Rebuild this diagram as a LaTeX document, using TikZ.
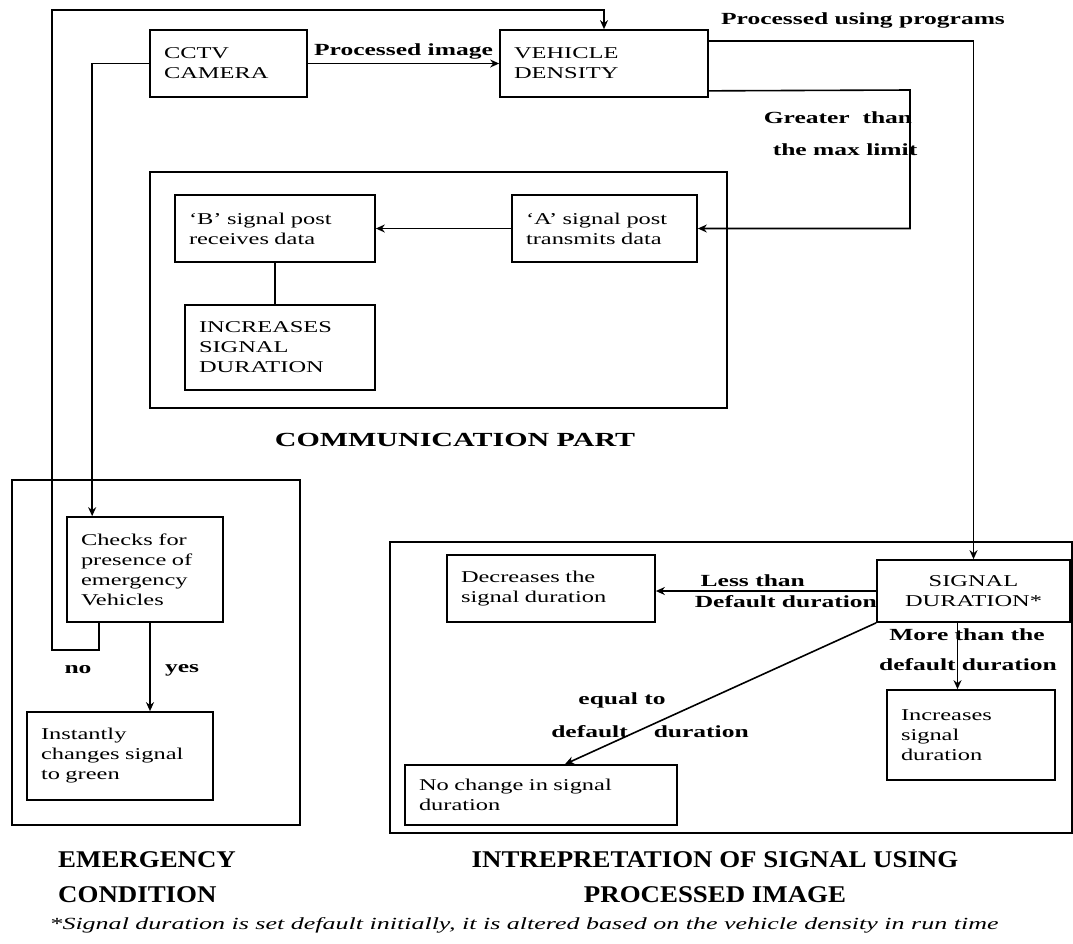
\documentclass[tikz,border=0pt]{standalone}
\usepackage{fontspec}
\setmainfont{Liberation Serif}
\newfontfamily\boxfont[FakeStretch=1.48]{Liberation Serif}
\newfontfamily\lblfont[FakeStretch=1.5]{Liberation Serif}
\newfontfamily\ttlfont[FakeStretch=1.12]{Liberation Serif}
\newfontfamily\notefont[FakeStretch=1.53]{Liberation Serif}
\usetikzlibrary{arrows.meta, calc}

\tikzset{
  blk/.style={draw, line width=1.7pt, font=\boxfont\fontsize{16.5}{20}\selectfont, align=left, inner xsep=14pt, inner ysep=0pt},
  lbl/.style={font=\lblfont\bfseries\fontsize{17}{32}\selectfont, inner sep=1pt},
  ttl/.style={font=\ttlfont\bfseries\fontsize{24}{35}\selectfont, inner sep=0pt},
  frame/.style={line width=1.7pt},
  con/.style={line width=1.6pt},
  arr/.style={line width=1.6pt, -{Stealth[length=9pt,width=8pt]}}
}

\begin{document}
\begin{tikzpicture}[x=1pt, y=-1pt]
\useasboundingbox (0,0) rectangle (1073,943);

% top row
\node[blk, text width=129pt, minimum height=67pt] (cctv) at (228.5,63.5) {CCTV\\CAMERA};
\node[blk, text width=180pt, minimum height=67pt] (dens) at (604,63.5) {VEHICLE\\DENSITY};

% communication part
\draw[frame] (150,172) rectangle (727,408);
\node[blk, text width=172pt, minimum height=67pt] (bpost) at (275,228.5) {‘B’ signal post\\receives data};
\node[blk, text width=157pt, minimum height=67pt] (apost) at (604.5,228.5) {‘A’ signal post\\transmits data};
\node[blk, text width=162pt, minimum height=85pt] (incb) at (280,347.5) {INCREASES\\SIGNAL\\DURATION};
\node[ttl, font=\lblfont\bfseries\fontsize{20}{24}\selectfont] (commttl) at (455,440) {COMMUNICATION PART};

% emergency condition
\draw[frame] (12,480) rectangle (300,825);
\node[blk, text width=128pt, minimum height=105pt] (chk) at (145,569.5) {Checks for\\presence of\\emergency\\Vehicles};
\node[blk, text width=158pt, minimum height=88pt] (inst) at (120,756) {Instantly\\changes signal\\to green};

% interpretation of signal
\draw[frame] (390,542) rectangle (1072,833);
\node[blk, align=center, text width=165pt, minimum height=62pt] (sig) at (973.5,591) {SIGNAL\\DURATION*};
\node[blk, text width=180pt, minimum height=67pt] (decr) at (551,588.5) {Decreases the\\signal duration};
\node[blk, text width=244pt, minimum height=60pt] (noch) at (541,795) {No change in signal\\duration};
\node[blk, text width=140pt, minimum height=90pt] (incs) at (971,735) {Increases\\signal\\duration};

% helper points
\coordinate (cctvdn) at ($(chk.north west)+(26,0)$);
\coordinate (chkno) at ($(chk.south west)+(33,0)$);
\coordinate (chkyes) at ($(chk.south)+(5,0)$);
\coordinate (loopSW) at (52,650);
\coordinate (loopNW) at (52,10);
\coordinate (densA) at ($(dens.north east)+(0,12)$);
\coordinate (densB) at ($(dens.south east)+(0,-7)$);
\coordinate (gtr) at (910,90);
\coordinate (sigdn) at ($(sig.south)+(-16,0)$);
\coordinate (nochup) at ($(noch.north)+(24,0)$);

% connectors
\draw[arr] (cctv.east) -- (dens.west) node[lbl, midway, above, yshift=2pt] {Processed image};
\draw[arr] (cctv.west) -| (cctvdn);
\draw[arr] (chkno) |- (loopSW) -- (loopNW) -| (dens.north);
\draw[arr] (chkyes) -- (chkyes |- inst.north);
\draw[arr] (densA) -| (sig.north);
\draw[arr] (densB) -- (gtr) |- (apost.east);
\draw[arr] (apost.west) -- (bpost.east);
\draw[con] (bpost.south) -- (bpost.south |- incb.north);
\draw[arr] (sig.west) -- (sig.west -| decr.east)
  node[lbl, pos=0.56, above, yshift=3pt] {Less than}
  node[lbl, pos=0.41, below, yshift=-3pt] {Default duration};
\draw[arr] (sig.south west) -- (nochup);
\draw[arr] (sigdn) -- (sigdn |- incs.north);

% labels
\node[lbl] (prog) at (863,20) {Processed using programs};
\node[lbl, align=center] (gtrlbl) at (838,134) {Greater~~than\\\hspace*{14pt}the max limit};
\node[lbl] (nolbl) at (78,670) {no};
\node[lbl] (yeslbl) at (182,670) {yes};
\node[lbl] (eqlbl) at (622,700) {equal to};
\node[lbl] (dflbl) at (650,732) {default\hspace{26pt}duration};
\node[lbl] (morelbl) at (967,635) {More than the};
\node[lbl] (mdflbl) at (968,665) {default duration};

% titles
\node[ttl, align=left, anchor=west] (emttl) at (58,877) {EMERGENCY\\CONDITION};
\node[ttl, align=center] (inttl) at (715,877) {INTREPRETATION OF SIGNAL USING\\PROCESSED IMAGE};
\node[font=\notefont\itshape\fontsize{17}{20}\selectfont, inner sep=0pt] (note) at (524,925) {*Signal duration is set default initially, it is altered based on the vehicle density in run time};
\end{tikzpicture}
\end{document}
